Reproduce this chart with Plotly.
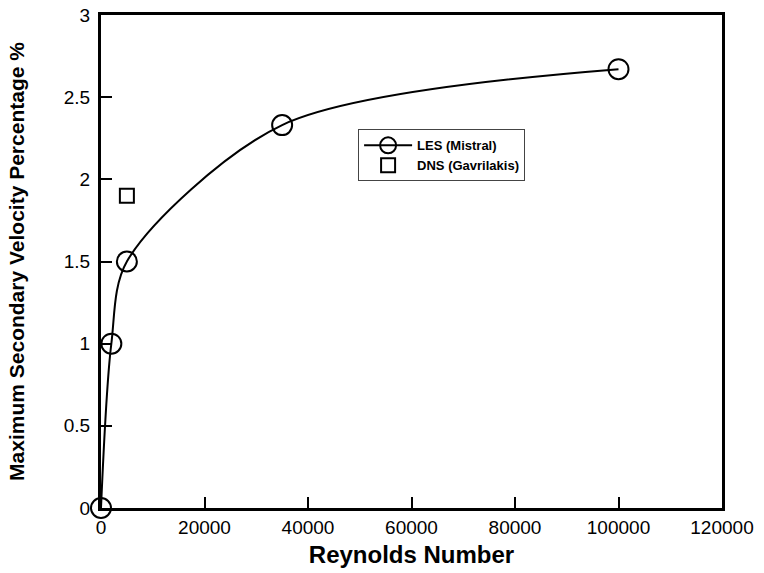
import plotly.graph_objects as go

# Maximum secondary velocity vs Reynolds number
les_re = [0, 2000, 5000, 35000, 100000]
les_vel = [0.0, 1.0, 1.5, 2.33, 2.67]

dns_re = [5000]
dns_vel = [1.9]

x_ticks = [0, 20000, 40000, 60000, 80000, 100000, 120000]
x_tick_labels = ["0", "20000", "40000", "60000", "80000", "100000", "120000"]
y_ticks = [0, 0.5, 1, 1.5, 2, 2.5, 3]
y_tick_labels = ["0", "0.5", "1", "1.5", "2", "2.5", "3"]

FONT = "Liberation Sans, Arial, sans-serif"

fig = go.Figure()

fig.add_trace(go.Scatter(
    x=les_re, y=les_vel,
    mode="lines+markers",
    name="<b>LES (Mistral)</b>",
    line=dict(color="black", width=2, shape="spline", smoothing=0.85),
    marker=dict(symbol="circle-open", size=20, color="black",
                line=dict(color="black", width=2)),
    cliponaxis=False,
))

fig.add_trace(go.Scatter(
    x=dns_re, y=dns_vel,
    mode="markers",
    name="<b>DNS (Gavrilakis)</b>",
    marker=dict(symbol="square-open", size=14, color="black",
                line=dict(color="black", width=2)),
    cliponaxis=False,
))

axis_common = dict(
    showline=True, linecolor="black", linewidth=3, mirror=True,
    ticks="inside", ticklen=11, tickwidth=2, tickcolor="black",
    showgrid=False, zeroline=False, automargin=False,
    tickfont=dict(family=FONT, size=19, color="black"),
)

fig.update_xaxes(
    range=[0, 120000], tickvals=x_ticks, ticktext=x_tick_labels,
    title=dict(text="<b>Reynolds Number</b>",
               font=dict(family=FONT, size=24, color="black"), standoff=10),
    **axis_common,
)
fig.update_yaxes(
    range=[0, 3], tickvals=y_ticks, ticktext=y_tick_labels,
    ticklabelstandoff=4,
    title=dict(text="<b>Maximum Secondary Velocity Percentage %</b>",
               font=dict(family=FONT, size=21, color="black"), standoff=34),
    **axis_common,
)

fig.update_layout(
    width=764, height=573,
    margin=dict(l=101, r=42, t=15, b=65),
    paper_bgcolor="white", plot_bgcolor="white",
    showlegend=True,
    legend=dict(
        x=0.414, y=0.768, xanchor="left", yanchor="top",
        bordercolor="#444", borderwidth=1, bgcolor="white",
        font=dict(family=FONT, size=13, color="black"),
        tracegroupgap=0, itemwidth=48,
    ),
)

fig.write_html("out.html")
